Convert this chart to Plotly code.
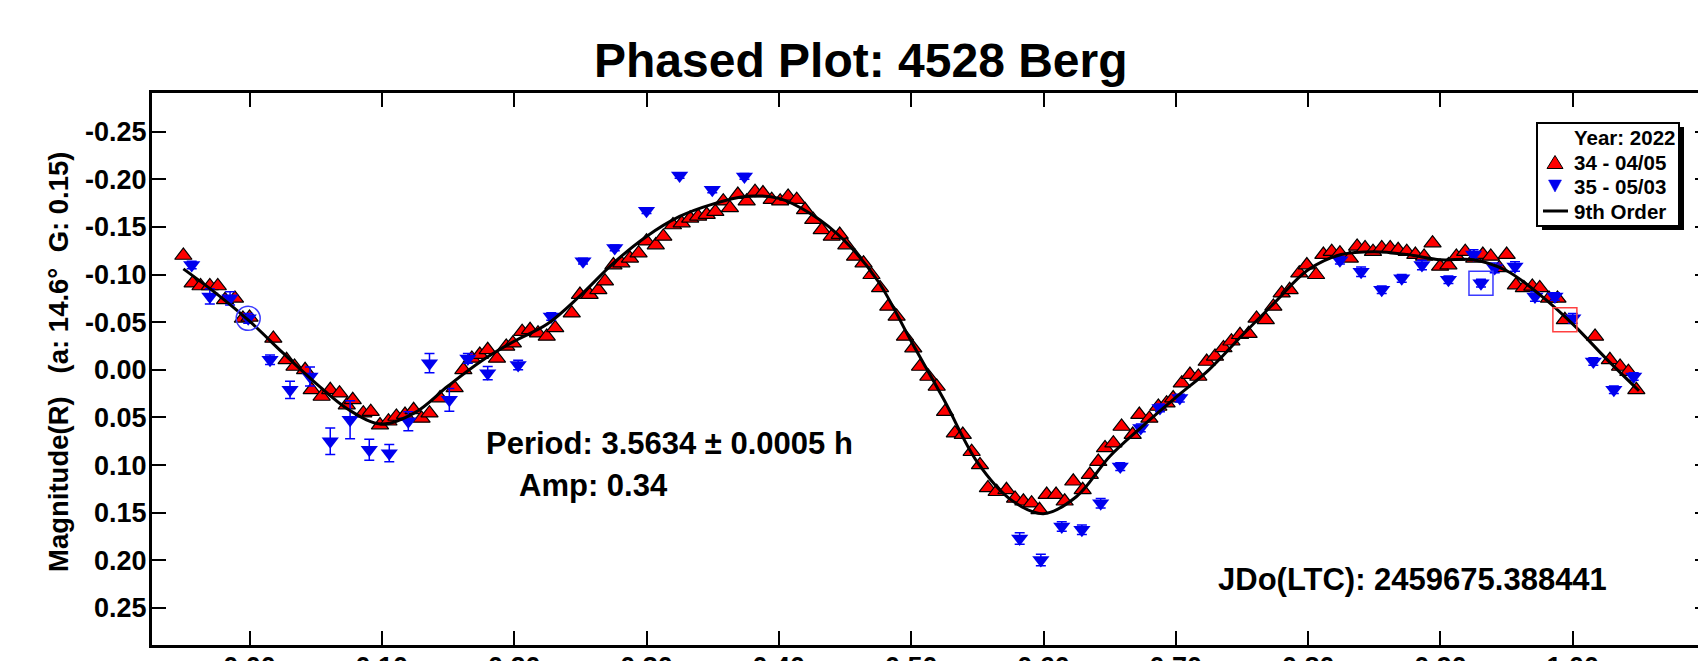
import plotly.graph_objects as go

# ---------------- data ----------------
red_phase = [-0.050, -0.043, -0.037, -0.030, -0.024, -0.0185, -0.011, -0.005, 0.000, 0.018,
             0.028, 0.034, 0.042, 0.047, 0.0545, 0.061, 0.068, 0.0735, 0.078, 0.086,
             0.0916, 0.0986, 0.105, 0.111, 0.1175, 0.124, 0.130, 0.136, 0.144, 0.155,
             0.1616, 0.168, 0.174, 0.180, 0.187, 0.194, 0.199, 0.206, 0.212, 0.218,
             0.2246, 0.231, 0.2435, 0.2497, 0.257, 0.2636, 0.2686, 0.275, 0.281, 0.2875,
             0.294, 0.300, 0.307, 0.3127, 0.320, 0.3266, 0.333, 0.339, 0.3455, 0.352,
             0.358, 0.363, 0.369, 0.3757, 0.382, 0.388, 0.3946, 0.401, 0.407, 0.4135,
             0.4198, 0.426, 0.4324, 0.440, 0.446, 0.451, 0.4576, 0.464, 0.470, 0.4765,
             0.4827, 0.489, 0.4953, 0.5016, 0.5067, 0.513, 0.5193, 0.5256, 0.533, 0.539,
             0.5457, 0.552, 0.558, 0.5646, 0.572, 0.5785, 0.5848, 0.591, 0.597, 0.6024,
             0.6095, 0.616, 0.6225, 0.6296, 0.635, 0.6414, 0.6465, 0.6528, 0.659, 0.6674,
             0.6724, 0.680, 0.6868, 0.693, 0.698, 0.7045, 0.7107, 0.717, 0.7233, 0.7296,
             0.736, 0.742, 0.7485, 0.755, 0.761, 0.768, 0.7737, 0.780, 0.786, 0.7933,
             0.799, 0.806, 0.8115, 0.8178, 0.824, 0.8315, 0.837, 0.843, 0.849, 0.8556,
             0.862, 0.868, 0.8745, 0.881, 0.8876, 0.894, 0.8997, 0.906, 0.912, 0.9187,
             0.9255, 0.932, 0.938, 0.9445, 0.950, 0.957, 0.963, 0.9694, 0.975, 0.982,
             0.9884, 0.994, 1.0168, 1.028, 1.0357, 1.042, 1.048]
red_mag = [-0.120, -0.091, -0.088, -0.088, -0.088, -0.0735, -0.075, -0.054, -0.055, -0.033,
           -0.0105, -0.0035, 0.000, 0.021, 0.028, 0.021, 0.0245, 0.037, 0.0315, 0.0455,
           0.044, 0.058, 0.054, 0.049, 0.047, 0.042, 0.051, 0.0455, 0.0297, 0.019,
           0.000, -0.012, -0.016, -0.021, -0.012, -0.0245, -0.028, -0.040, -0.042, -0.0385,
           -0.035, -0.044, -0.0595, -0.079, -0.079, -0.084, -0.093, -0.110, -0.112, -0.117,
           -0.1225, -0.135, -0.131, -0.140, -0.152, -0.154, -0.159, -0.161, -0.163, -0.166,
           -0.177, -0.170, -0.184, -0.177, -0.187, -0.1856, -0.1786, -0.177, -0.182, -0.1786,
           -0.168, -0.1576, -0.147, -0.140, -0.142, -0.131, -0.119, -0.112, -0.0998, -0.086,
           -0.0665, -0.056, -0.035, -0.0228, -0.0035, 0.007, 0.0175, 0.044, 0.0665, 0.068,
           0.086, 0.0998, 0.124, 0.128, 0.126, 0.135, 0.138, 0.140, 0.147, 0.131,
           0.131, 0.138, 0.117, 0.126, 0.110, 0.0963, 0.082, 0.077, 0.0595, 0.068,
           0.047, 0.051, 0.0385, 0.035, 0.0297, 0.014, 0.005, 0.007, -0.0087, -0.014,
           -0.023, -0.030, -0.0368, -0.038, -0.054, -0.0525, -0.0665, -0.0805, -0.084, -0.1015,
           -0.110, -0.0998, -0.121, -0.124, -0.1225, -0.117, -0.1295, -0.128, -0.124, -0.128,
           -0.128, -0.126, -0.124, -0.121, -0.119, -0.133, -0.1085, -0.110, -0.119, -0.124,
           -0.117, -0.121, -0.119, -0.107, -0.121, -0.089, -0.086, -0.0875, -0.086, -0.075,
           -0.075, -0.0525, -0.035, -0.0105, -0.0035, 0.002, 0.021]

blue_phase = [-0.0437, -0.030, -0.0147, -0.001, 0.0155, 0.0306, 0.0457, 0.061, 0.076, 0.0905,
              0.1056, 0.120, 0.136, 0.151, 0.165, 0.180, 0.203, 0.228, 0.252, 0.276,
              0.300, 0.325, 0.3497, 0.374, 0.582, 0.598, 0.6138, 0.629, 0.6432, 0.658,
              0.6735, 0.688, 0.703, 0.824, 0.840, 0.8556, 0.8707, 0.886, 0.906, 0.925,
              0.9306, 0.941, 0.9563, 0.9714, 0.9865, 1.000, 1.0155, 1.031, 1.046]
blue_mag = [-0.110, -0.077, -0.075, -0.054, -0.0105, 0.021, 0.007, 0.075, 0.0525, 0.084,
            0.0875, 0.054, -0.007, 0.0315, -0.012, 0.0035, -0.005, -0.056, -0.114, -0.128,
            -0.167, -0.204, -0.189, -0.203, 0.177, 0.1996, 0.1646, 0.168, 0.140, 0.1016,
            0.061, 0.040, 0.0297, -0.115, -0.103, -0.084, -0.096, -0.110, -0.0945, -0.121,
            -0.091, -0.107, -0.1085, -0.077, -0.077, -0.054, -0.0087, 0.021, 0.007]
blue_err = [0.004, 0.008, 0.007, 0.005, 0.005, 0.009, 0.010, 0.014, 0.020, 0.011,
            0.009, 0.010, 0.010, 0.012, 0.005, 0.007, 0.005, 0.004, 0.003, 0.003,
            0.003, 0.003, 0.003, 0.003, 0.006, 0.006, 0.005, 0.005, 0.005, 0.004,
            0.004, 0.004, 0.004, 0.004, 0.005, 0.004, 0.004, 0.005, 0.004, 0.005,
            0.004, 0.005, 0.005, 0.005, 0.004, 0.005, 0.004, 0.004, 0.004]

fit_phase = [-0.05, -0.025, 0.0, 0.025, 0.05, 0.075, 0.10, 0.125, 0.15, 0.175,
             0.20, 0.225, 0.25, 0.275, 0.30, 0.325, 0.35, 0.375, 0.40, 0.425,
             0.45, 0.475, 0.50, 0.525, 0.55, 0.575, 0.60, 0.625, 0.65, 0.675,
             0.70, 0.725, 0.75, 0.775, 0.80, 0.825, 0.85, 0.875, 0.90, 0.925,
             0.95, 0.975, 1.00, 1.025, 1.05]
fit_mag = [-0.106, -0.080, -0.051, -0.018, 0.014, 0.042, 0.057, 0.045, 0.017, -0.009,
           -0.030, -0.048, -0.078, -0.112, -0.140, -0.161, -0.174, -0.182, -0.180, -0.163,
           -0.135, -0.093, -0.030, 0.032, 0.097, 0.136, 0.151, 0.133, 0.091, 0.059,
           0.029, 0.000, -0.036, -0.071, -0.105, -0.121, -0.124, -0.121, -0.1155, -0.1155,
           -0.104, -0.079, -0.048, -0.012, 0.022]

# first-point highlight marks
circle_phase = [-0.001]
circle_mag = [-0.054]
bsq_phase = [0.9306]
bsq_mag = [-0.091]
rsq_phase = [0.994]
rsq_mag = [-0.0525]

x_tickvals = [0.0, 0.1, 0.2, 0.3, 0.4, 0.5, 0.6, 0.7, 0.8, 0.9, 1.0]
x_ticktext = ["0.00", "0.10", "0.20", "0.30", "0.40", "0.50", "0.60", "0.70", "0.80", "0.90", "1.00"]
y_tickvals = [-0.25, -0.20, -0.15, -0.10, -0.05, 0.0, 0.05, 0.10, 0.15, 0.20, 0.25]
y_ticktext = ["-0.25", "-0.20", "-0.15", "-0.10", "-0.05", "0.00", "0.05", "0.10", "0.15", "0.20", "0.25"]

legend_title = "Year: 2022"
legend_names = ["34 - 04/05", "35 - 05/03", "9th Order"]

FONT = "Liberation Sans, Arial, sans-serif"
W, H = 1698, 661
ML, MT, MB, MR = 152, 93, 16, 0
PW, PH = W - ML - MR, H - MT - MB

RED = "#ff0000"
BLUE = "#0000ee"


def px(xp):
    return (xp - ML) / PW


def py(yp):
    return 1 - (yp - MT) / PH


fig = go.Figure()

fig.add_trace(go.Scatter(
    x=red_phase, y=red_mag, mode="markers", name=legend_names[0],
    marker=dict(symbol="triangle-up", size=15, color=RED,
                line=dict(color="black", width=1.2))))
fig.add_trace(go.Scatter(
    x=blue_phase, y=blue_mag, mode="markers", name=legend_names[1],
    marker=dict(symbol="triangle-down", size=15, color=BLUE,
                line=dict(color=BLUE, width=0)),
    error_y=dict(type="data", array=blue_err, color="#0000ff", thickness=1.5, width=5)))
fig.add_trace(go.Scatter(
    x=fit_phase, y=fit_mag, mode="lines", name=legend_names[2],
    line=dict(color="black", width=3, shape="spline", smoothing=1.0)))
fig.add_trace(go.Scatter(
    x=circle_phase, y=circle_mag, mode="markers",
    marker=dict(symbol="circle-open", size=24, color="#3a3aff", line=dict(width=1.5))))
fig.add_trace(go.Scatter(
    x=bsq_phase, y=bsq_mag, mode="markers",
    marker=dict(symbol="square-open", size=24, color="#3a3aff", line=dict(width=1.5))))
fig.add_trace(go.Scatter(
    x=rsq_phase, y=rsq_mag, mode="markers",
    marker=dict(symbol="square-open", size=24, color="#ff4040", line=dict(width=1.5))))
fig.add_trace(go.Scatter(x=[None], y=[None], yaxis="y2", hoverinfo="skip"))

tick_font = dict(family=FONT, size=27, color="black", weight="bold")
leg_font = dict(family=FONT, size=20.5, color="black", weight="bold")

# ---- hand-drawn legend box (boxed with a drop shadow, as in the reference) ----
LX0, LX1, LY0, LY1 = 1537, 1679, 123, 226
SYM_X = 1555
TXT_X = 1572
ROWS = [137, 162, 186, 211]


def tri_path(cx, cy, w, h, up=True):
    x0, x1 = px(cx - w / 2), px(cx + w / 2)
    if up:
        yb, yt = py(cy + h / 2), py(cy - h / 2)
        return f"M {x0} {yb} L {x1} {yb} L {px(cx)} {yt} Z"
    yt, yb = py(cy - h / 2), py(cy + h / 2)
    return f"M {x0} {yt} L {x1} {yt} L {px(cx)} {yb} Z"


shapes = [
    dict(type="rect", xref="paper", yref="paper", layer="above",
         x0=px(LX0 + 5), x1=px(LX1 + 5), y0=py(LY1 + 4), y1=py(LY0 + 4),
         fillcolor="black", line=dict(width=0)),
    dict(type="rect", xref="paper", yref="paper", layer="above",
         x0=px(LX0), x1=px(LX1), y0=py(LY1), y1=py(LY0),
         fillcolor="white", line=dict(color="black", width=2)),
    dict(type="path", xref="paper", yref="paper", layer="above",
         path=tri_path(SYM_X, ROWS[1], 16, 13, True),
         fillcolor=RED, line=dict(color="black", width=1)),
    dict(type="path", xref="paper", yref="paper", layer="above",
         path=tri_path(SYM_X, ROWS[2], 13, 12, False),
         fillcolor=BLUE, line=dict(color=BLUE, width=0.5)),
    dict(type="line", xref="paper", yref="paper", layer="above",
         x0=px(1543), x1=px(1568), y0=py(ROWS[3]), y1=py(ROWS[3]),
         line=dict(color="black", width=3)),
]

annotations = [
    dict(text=legend_title, xref="paper", yref="paper", x=px(TXT_X), y=py(ROWS[0]),
         xanchor="left", yanchor="middle", showarrow=False, font=leg_font),
]
for name, row in zip(legend_names, ROWS[1:]):
    annotations.append(dict(text=name, xref="paper", yref="paper", x=px(TXT_X), y=py(row),
                            xanchor="left", yanchor="middle", showarrow=False, font=leg_font))

annotations += [
    dict(text="Phased Plot: 4528 Berg", xref="paper", yref="paper",
         x=px(861), y=py(60), xanchor="center", yanchor="middle", showarrow=False,
         font=dict(family=FONT, size=48, color="black", weight="bold")),
    dict(text="Magnitude(R)\u00a0\u00a0\u00a0(a: 14.6°\u00a0\u00a0G: 0.15)",
         xref="paper", yref="paper", x=px(58), y=py(362), textangle=-90,
         xanchor="center", yanchor="middle", showarrow=False,
         font=dict(family=FONT, size=27.5, color="black", weight="bold")),
    dict(text="Period: 3.5634 ± 0.0005 h", xref="paper", yref="paper",
         x=px(484), y=py(443), xanchor="left", yanchor="middle", showarrow=False,
         font=dict(family=FONT, size=31, color="black", weight="bold")),
    dict(text="Amp: 0.34", xref="paper", yref="paper",
         x=px(517), y=py(485), xanchor="left", yanchor="middle", showarrow=False,
         font=dict(family=FONT, size=31, color="black", weight="bold")),
    dict(text="JDo(LTC): 2459675.388441", xref="paper", yref="paper",
         x=px(1216), y=py(579), xanchor="left", yanchor="middle", showarrow=False,
         font=dict(family=FONT, size=31, color="black", weight="bold")),
]

fig.update_layout(
    width=W, height=H,
    margin=dict(l=ML, r=MR, t=MT, b=MB, pad=0),
    paper_bgcolor="white", plot_bgcolor="white",
    showlegend=False,
    xaxis=dict(
        range=[-0.0737, 1.0946], showgrid=False, zeroline=False,
        showline=True, linecolor="black", linewidth=3, mirror="ticks",
        ticks="inside", ticklen=14, tickwidth=1.5, tickcolor="black",
        tickvals=x_tickvals, ticktext=x_ticktext, tickfont=tick_font,
        ticklabelstandoff=-4, automargin=False,
    ),
    yaxis=dict(
        range=[0.2889, -0.2906], showgrid=False, zeroline=False,
        showline=True, linecolor="black", linewidth=3, mirror=False,
        ticks="inside", ticklen=14, tickwidth=1.5, tickcolor="black",
        tickvals=y_tickvals, ticktext=y_ticktext, tickfont=tick_font,
        ticklabelstandoff=-3, automargin=False,
    ),
    yaxis2=dict(
        overlaying="y", side="right", range=[0.2889, -0.2906],
        showgrid=False, zeroline=False, showline=False,
        ticks="inside", ticklen=3, tickwidth=1.5, tickcolor="black",
        tickvals=y_tickvals, showticklabels=False,
    ),
    shapes=shapes,
    annotations=annotations,
)

fig.write_html("out.html")
